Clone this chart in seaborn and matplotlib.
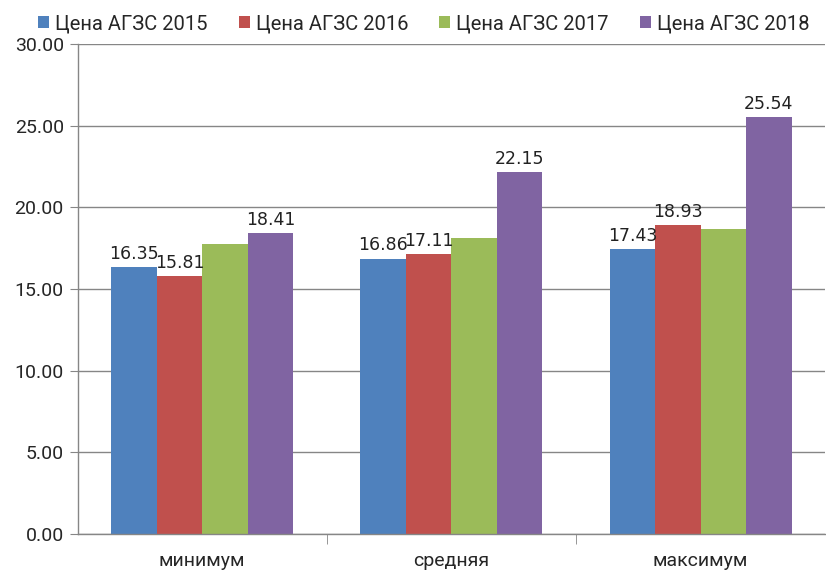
import pandas as pd
import numpy as np
import matplotlib.pyplot as plt
import seaborn as sns

# Chart data
categories = ['минимум', 'средняя', 'максимум']
series = ['Цена АГЗС 2015', 'Цена АГЗС 2016', 'Цена АГЗС 2017', 'Цена АГЗС 2018']
price_2015 = [16.35, 16.86, 17.43]
price_2016 = [15.81, 17.11, 18.93]
price_2017 = [17.78, 18.12, 18.65]
price_2018 = [18.41, 22.15, 25.54]
labelled = ['Цена АГЗС 2015', 'Цена АГЗС 2016', 'Цена АГЗС 2018']

colors = ['#4f81bd', '#c0504d', '#9bbb59', '#8064a2']

records = []
for name, vals in zip(series, [price_2015, price_2016, price_2017, price_2018]):
    for cat, v in zip(categories, vals):
        records.append({'Категория': cat, 'Серия': name, 'Цена': v})
df = pd.DataFrame(records)

sns.set_style('white')
plt.rcParams['font.family'] = ['Roboto', 'DejaVu Sans']

fig = plt.figure(figsize=(8.26, 5.71), dpi=100)
ax = fig.add_axes([0.094, 0.065, 0.905, 0.858])

sns.barplot(data=df, x='Категория', y='Цена', hue='Серия', hue_order=series,
            order=categories, palette=colors, width=0.73, saturation=1,
            gap=0, ax=ax, legend=True, linewidth=0, edgecolor='none')

# Data labels (no labels on the 2017 series)
for container, name in zip(ax.containers, series):
    if name in labelled:
        ax.bar_label(container, fmt='%.2f', padding=3, fontsize=12.5,
                     family='DejaVu Sans', color='#222222')

ax.set_ylim(0, 30)
ax.set_xlim(-0.5, 2.5)
ax.set_yticks(np.arange(0, 30.01, 5))
ax.set_yticklabels([f'{t:.2f}' for t in np.arange(0, 30.01, 5)], fontsize=14)
ax.set_xlabel('')
ax.set_ylabel('')
ax.tick_params(axis='x', length=0, labelsize=14, pad=13)
ax.tick_params(axis='y', length=6, color='#868686', pad=4, left=True)

ax.yaxis.grid(True, color='#868686', linewidth=1)
ax.set_axisbelow(True)
for side in ['top', 'right']:
    ax.spines[side].set_visible(False)
for side in ['left', 'bottom']:
    ax.spines[side].set_color('#868686')
    ax.spines[side].set_linewidth(1)

# Category separator ticks on the x axis
ax.set_xticks([0.5, 1.5], minor=True)
ax.tick_params(axis='x', which='minor', length=7, color='#868686', bottom=True)

sns.move_legend(ax, loc='upper center', bbox_to_anchor=(0.513, 1.0),
                bbox_transform=fig.transFigure, ncol=4, title=None,
                frameon=False, fontsize=14.5, handlelength=0.55, handleheight=0.55,
                handletextpad=0.3, columnspacing=1.55, borderaxespad=0.3)

fig.savefig('out.png', dpi=100)
plt.close(fig)
